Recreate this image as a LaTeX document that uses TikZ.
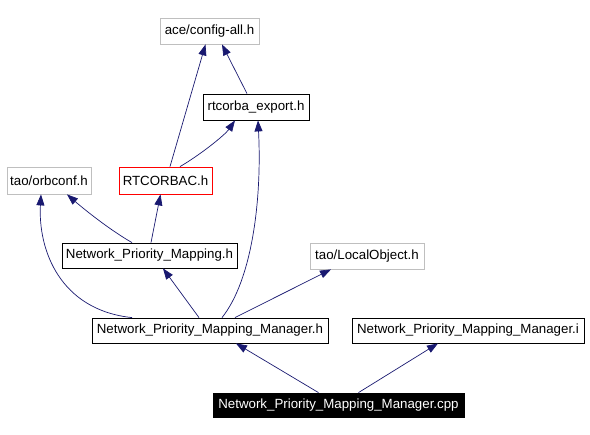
\documentclass[tikz,border=0pt]{standalone}
\usepackage{fontspec}
\setmainfont{Liberation Sans}
\usetikzlibrary{arrows.meta,calc}
\definecolor{edgeblue}{RGB}{25,25,112}
\definecolor{lightgray}{RGB}{191,191,191}
\tikzset{
  filebox/.style={draw=black, line width=0.8pt, inner sep=0pt, font=\fontsize{13.3}{15}\selectfont, minimum height=#1},
  filebox/.default=26pt,
  graybox/.style={filebox, draw=lightgray},
  redbox/.style={filebox, draw=red},
  blackbox/.style={filebox, fill=black, text=white},
  dep/.style={draw=edgeblue, line width=0.7pt, -{Triangle[length=11pt,width=8pt]}}
}
\begin{document}
\begin{tikzpicture}[x=1pt,y=-1pt]
\useasboundingbox (0,0) rectangle (590,435);
\node[graybox, minimum width=99pt] (cfg) at (209.5,31) {ace/config-all.h};
\node[filebox, minimum width=106pt] (rte) at (256,107) {rtcorba\_export.h};
\node[graybox, minimum width=84pt, minimum height=27pt] (orb) at (49,180.5) {tao/orbconf.h};
\node[redbox, minimum width=93pt, minimum height=27pt] (rtc) at (165.5,180.5) {RTCORBAC.h};
\node[filebox, minimum width=175pt, minimum height=25pt] (npm) at (149.5,255.5) {Network\_Priority\_Mapping.h};
\node[graybox, minimum width=114pt] (loc) at (367,256) {tao/LocalObject.h};
\node[filebox, minimum width=236pt, minimum height=25pt] (mgrh) at (210,330.5) {Network\_Priority\_Mapping\_Manager.h};
\node[filebox, minimum width=232pt, minimum height=25pt] (mgri) at (468,330.5) {Network\_Priority\_Mapping\_Manager.i};
\node[blackbox, minimum width=251pt, minimum height=24pt] (cpp) at (338.5,405) {Network\_Priority\_Mapping\_Manager.cpp};

\draw[dep] ($(cpp.north)+(-20,0)$) -- ($(mgrh.south)+(26,0)$);
\draw[dep] ($(cpp.north)+(20,0)$) -- ($(mgri.south)+(-30,0)$);
\draw[dep] ($(mgrh.north)+(-11,0)$) -- ($(npm.south)+(13.5,0)$);
\draw[dep] ($(mgrh.north)+(-78,0)$) .. controls (60,310) and (38,250) .. ($(orb.south)+(-8,0)$);
\draw[dep] ($(mgrh.north)+(12,0)$) .. controls (252,280) and (262,200) .. ($(rte.south)+(2,0)$);
\draw[dep] ($(mgrh.north)+(25,0)$) .. controls (270,300) and (300,285) .. ($(loc.south)+(-36,0)$);
\draw[dep] ($(npm.north)+(-17.5,0)$) .. controls (110,230) and (85,210) .. ($(orb.south)+(18,0)$);
\draw[dep] ($(npm.north)+(1.5,0)$) -- ($(rtc.south)+(-5,0)$);
\draw[dep] ($(rtc.north)+(4.5,0)$) -- ($(cfg.south)+(-4,0)$);
\draw[dep] ($(rtc.north)+(14.5,0)$) .. controls (200,155) and (225,135) .. ($(rte.south)+(-21,0)$);
\draw[dep] ($(rte.north)+(-9,0)$) -- ($(cfg.south)+(12.5,0)$);
\end{tikzpicture}
\end{document}
